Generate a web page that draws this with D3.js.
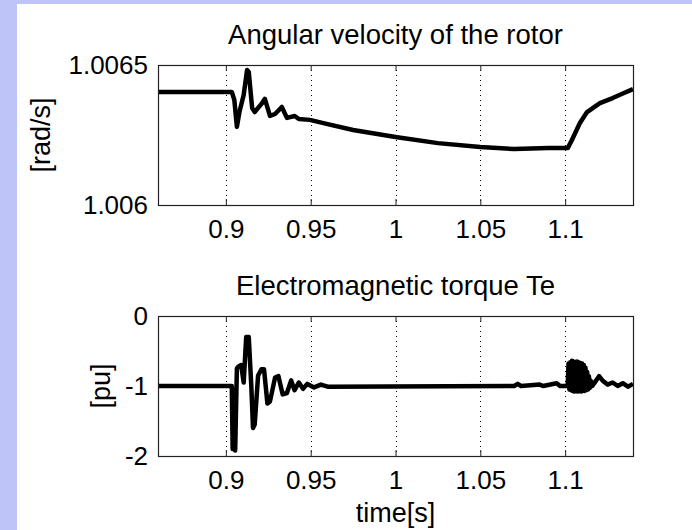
<!DOCTYPE html>
<html>
<head>
<meta charset="utf-8">
<script src="https://cdn.jsdelivr.net/npm/d3@7"></script>
<style>
  body { margin: 0; padding: 0; background: #bec4f8; }
  text { font-family: "Liberation Sans", Arial, sans-serif; fill: #000; }
</style>
</head>
<body>
<div id="figure"></div>
<script>
// Angular velocity of the rotor [rad/s]
var timeW = [0.86, 0.9035, 0.905, 0.9065, 0.908, 0.9105, 0.9125, 0.9135, 0.9155, 0.917,
  0.921, 0.923, 0.926, 0.929, 0.933, 0.936, 0.9406, 0.943, 0.9495, 0.96,
  0.975, 1.0, 1.025, 1.05, 1.07, 1.09, 1.1016, 1.104, 1.1087, 1.1129,
  1.1205, 1.128, 1.134, 1.14];
var omega = [1.006404, 1.006404, 1.006375, 1.006279, 1.006332, 1.006393, 1.006482, 1.006475, 1.006346, 1.006332,
  1.006361, 1.006379, 1.006318, 1.006325, 1.006350, 1.006311, 1.006318, 1.006307, 1.006304, 1.006289,
  1.006268, 1.006243, 1.006221, 1.006207, 1.006200, 1.006204, 1.006204, 1.006232, 1.006293, 1.006332,
  1.006364, 1.006382, 1.006398, 1.006414];

// Electromagnetic torque Te [pu]
var timeT = [0.86, 0.9035, 0.904, 0.9048, 0.9055, 0.9065, 0.9075, 0.909, 0.9105, 0.912,
  0.9135, 0.915, 0.916, 0.917, 0.919, 0.921, 0.9225, 0.9245, 0.926, 0.929,
  0.931, 0.9335, 0.936, 0.9385, 0.9405, 0.943, 0.9455, 0.948, 0.952, 0.956,
  0.96, 1.07, 1.072, 1.074, 1.085, 1.087, 1.095, 1.097, 1.1015,
  1.102, 1.1025, 1.103, 1.1035, 1.104, 1.1045, 1.105, 1.1055, 1.106, 1.1065,
  1.107, 1.1075, 1.108, 1.1085, 1.109, 1.1095, 1.11, 1.1105, 1.111, 1.1115,
  1.112, 1.1125, 1.113, 1.1135, 1.114, 1.1145, 1.115, 1.116, 1.118, 1.12,
  1.122, 1.125, 1.128, 1.131, 1.134, 1.137, 1.14];
var torque = [-1, -1, -1.9, -1.05, -1.92, -0.75, -0.72, -0.7, -0.95, -0.3,
  -0.3, -1.0, -1.6, -1.55, -0.85, -0.76, -0.76, -1.25, -1.22, -0.88,
  -0.86, -1.12, -1.1, -0.92, -1.06, -0.95, -1.04, -0.97, -1.02, -0.98,
  -1.01, -1.0, -0.97, -1.0, -0.98, -1.0, -0.96, -1.0, -1.0,
  -0.68, -1.05, -0.66, -1.06, -0.64, -1.07, -0.65, -1.08, -0.66, -1.07,
  -0.65, -1.08, -0.66, -1.07, -0.67, -1.08, -0.68, -1.07, -0.7, -1.07,
  -0.74, -1.06, -0.8, -1.05, -0.86, -1.03, -0.92, -1.0, -0.93, -0.86,
  -0.92, -0.98, -0.95, -1.0, -0.96, -1.01, -0.97];

var timeTicks = [0.9, 0.95, 1, 1.05, 1.1];
var omegaTicks = [1.006, 1.0065];
var torqueTicks = [-2, -1, 0];

var svgWidth = 692;
var svgHeight = 530;

var svg = d3.select("#figure")
  .append("svg")
  .attr("width", svgWidth)
  .attr("height", svgHeight);

// slide background and white figure sheet
svg.append("rect")
  .attr("width", svgWidth).attr("height", svgHeight)
  .attr("fill", "#bec4f8");
svg.append("rect")
  .attr("x", 17).attr("y", 4)
  .attr("width", svgWidth - 17).attr("height", svgHeight - 4)
  .attr("fill", "#fff");

var left = 158, right = 633;

var xScale = d3.scaleLinear().domain([0.86, 1.14]).range([left, right]);

// plain hyphen minus, like the original figure
var fmt = d => String(d);

function drawPanel(opts) {
  var yScale = d3.scaleLinear().domain(opts.domain).range([opts.bottom, opts.top]);
  var g = svg.append("g");

  // dotted grid at the time ticks
  g.selectAll(".grid")
    .data(timeTicks)
    .enter()
    .append("line")
    .attr("x1", d => Math.round(xScale(d)) + 0.5)
    .attr("x2", d => Math.round(xScale(d)) + 0.5)
    .attr("y1", opts.top)
    .attr("y2", opts.bottom)
    .attr("stroke", "#000")
    .attr("stroke-width", 1)
    .attr("stroke-dasharray", "1,4");

  // data line
  var line = d3.line()
    .x(d => xScale(d[0]))
    .y(d => yScale(d[1]));
  var pts = opts.t.map((t, i) => [t, opts.v[i]]);
  g.append("path")
    .datum(pts)
    .attr("d", line)
    .attr("fill", "none")
    .attr("stroke", "#000")
    .attr("stroke-width", 4.5)
    .attr("stroke-linejoin", "round");

  // box
  g.append("rect")
    .attr("x", left + 0.5).attr("y", opts.top + 0.5)
    .attr("width", right - left).attr("height", opts.bottom - opts.top)
    .attr("fill", "none")
    .attr("stroke", "#222")
    .attr("stroke-width", 1.2);

  // x axis (inside ticks top and bottom)
  var bottomAxis = d3.axisBottom(xScale)
    .tickValues(timeTicks)
    .tickSizeInner(-6)
    .tickSizeOuter(0)
    .tickPadding(14)
    .tickFormat(fmt);
  var xa = g.append("g")
    .attr("transform", "translate(0," + opts.bottom + ")")
    .call(bottomAxis);
  xa.select(".domain").remove();
  xa.selectAll("line").attr("stroke", "#222");
  xa.selectAll("text").attr("font-size", 26).attr("dy", "0.72em")
    .attr("font-family", "Liberation Sans, Arial, sans-serif");

  var topAxis = d3.axisTop(xScale)
    .tickValues(timeTicks)
    .tickSizeInner(-6)
    .tickSizeOuter(0)
    .tickFormat("");
  var xt = g.append("g")
    .attr("transform", "translate(0," + opts.top + ")")
    .call(topAxis);
  xt.select(".domain").remove();
  xt.selectAll("line").attr("stroke", "#222");

  // y axis labels
  var leftAxis = d3.axisLeft(yScale)
    .tickValues(opts.ticks)
    .tickSize(0)
    .tickPadding(10)
    .tickFormat(fmt);
  var ya = g.append("g")
    .attr("transform", "translate(" + left + ",0)")
    .call(leftAxis);
  ya.select(".domain").remove();
  ya.selectAll("text").attr("font-size", 26)
    .attr("font-family", "Liberation Sans, Arial, sans-serif");

  // title
  g.append("text")
    .attr("x", (left + right) / 2)
    .attr("y", opts.top - 21)
    .attr("text-anchor", "middle")
    .attr("font-size", 27.5)
    .text(opts.title);

  // y label
  g.append("text")
    .attr("transform", "translate(" + opts.labelX + "," + (opts.top + opts.bottom) / 2 + ") rotate(-90)")
    .attr("text-anchor", "middle")
    .attr("font-size", 27)
    .text(opts.ylabel);
}

drawPanel({
  t: timeW, v: omega, domain: [1.006, 1.0065], ticks: omegaTicks,
  top: 65, bottom: 205, title: "Angular velocity of the rotor",
  ylabel: "[rad/s]", labelX: 50
});

drawPanel({
  t: timeT, v: torque, domain: [-2, 0], ticks: torqueTicks,
  top: 316, bottom: 456, title: "Electromagnetic torque Te",
  ylabel: "[pu]", labelX: 110
});

svg.append("text")
  .attr("x", (left + right) / 2)
  .attr("y", 522)
  .attr("text-anchor", "middle")
  .attr("font-size", 27)
  .text("time[s]");
</script>
</body>
</html>
